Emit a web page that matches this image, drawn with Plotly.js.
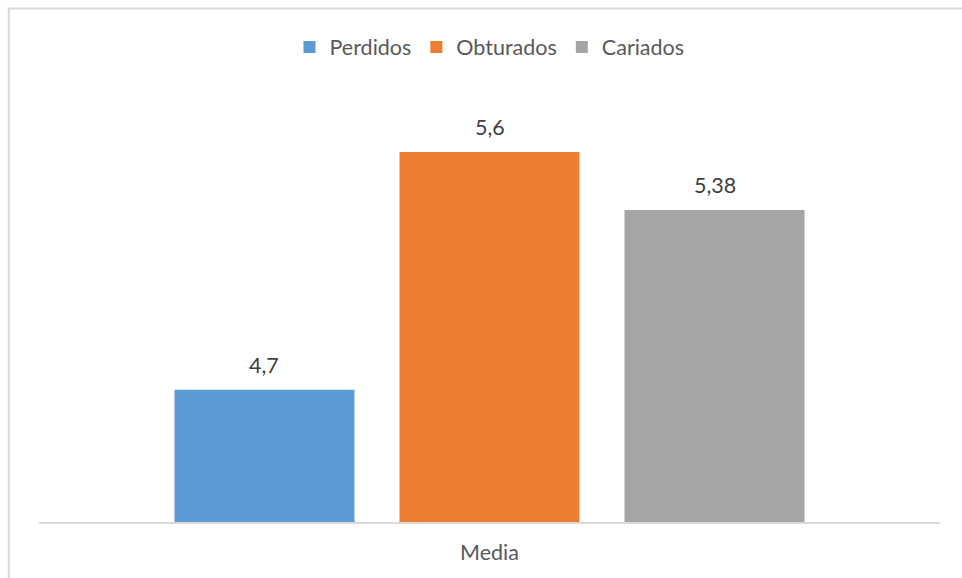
<!DOCTYPE html>
<html>
<head>
<meta charset="utf-8">
<script src="https://cdn.plot.ly/plotly-3.0.1.min.js"></script>
<style>html,body{margin:0;padding:0;background:#fff;}#chart{width:962px;height:578px;}</style>
</head>
<body>
<div id="chart"></div>
<script>
const categories = ['Media'];
const seriesNames = ['Perdidos', 'Obturados', 'Cariados'];
const perdidos = [4.7];
const obturados = [5.6];
const cariados = [5.38];
const colors = ['#5B9BD5', '#ED7D31', '#A5A5A5'];

const seriesValues = [perdidos, obturados, cariados];
const FONT = 'Lato, "Open Sans", sans-serif';
const TXT = '#595959';
const bargap = 0.2508;

const traces = seriesValues.map((vals, i) => ({
  type: 'bar',
  name: seriesNames[i],
  x: categories,
  y: vals,
  marker: {color: colors[i]},
  hoverinfo: 'skip'
}));

const slot = (1 - bargap) / seriesValues.length;
const annotations = [];
seriesValues.forEach((vals, i) => {
  vals.forEach((v, j) => {
    annotations.push({
      xref: 'x', yref: 'y',
      x: j + (i - (seriesValues.length - 1) / 2) * slot,
      y: v,
      text: String(v).replace('.', ','),
      showarrow: false,
      yanchor: 'bottom',
      yshift: 10,
      font: {family: FONT, size: 21.5, color: '#404040'}
    });
  });
});

const layout = {
  width: 962, height: 578,
  margin: {l: 39, r: 22, t: 99, b: 56, pad: 0},
  paper_bgcolor: '#ffffff', plot_bgcolor: '#ffffff',
  separators: ',.',
  barmode: 'group',
  bargap: bargap,
  bargroupgap: 0.2,
  showlegend: true,
  legend: {
    orientation: 'h', x: 0.5, xanchor: 'center', y: 1.123, yanchor: 'middle',
    font: {family: FONT, size: 21.5, color: TXT},
    itemwidth: 30, tracegroupgap: 0
  },
  xaxis: {
    type: 'category',
    showline: true, linecolor: '#d9d9d9', linewidth: 2,
    ticks: '', showgrid: false, zeroline: false,
    ticklabelstandoff: 10,
    tickfont: {family: FONT, size: 21.5, color: TXT},
    fixedrange: true
  },
  yaxis: {
    range: [4.2, 5.8],
    showticklabels: false, showgrid: false, zeroline: false, showline: false, ticks: '',
    fixedrange: true
  },
  annotations: annotations,
  shapes: [{
    type: 'rect', xref: 'paper', yref: 'paper', layer: 'above',
    x0: -0.0335, x1: 1.2, y0: -0.4, y1: 1.214,
    line: {color: '#d9d9d9', width: 2}, fillcolor: 'rgba(0,0,0,0)'
  }]
};

Plotly.newPlot('chart', traces, layout, {displayModeBar: false, staticPlot: true});
</script>
</body>
</html>
